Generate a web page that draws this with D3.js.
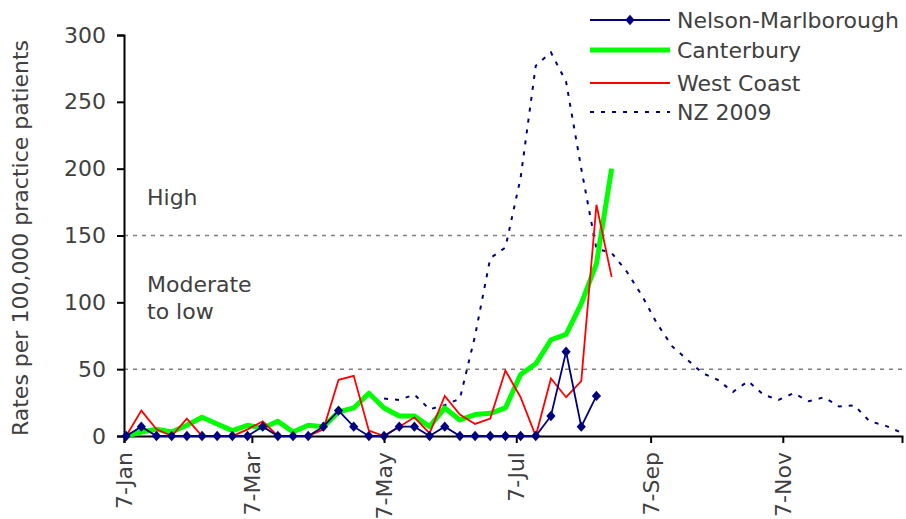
<!DOCTYPE html>
<html>
<head>
<meta charset="utf-8">
<script src="https://cdn.jsdelivr.net/npm/d3@7"></script>
<style>
  body { margin: 0; background: #fff; }
  svg text { font-family: "DejaVu Sans", Verdana, sans-serif; fill: #404040; }
</style>
</head>
<body>
<svg id="chart" width="906" height="519"></svg>
<script>
/* --- Data (weekly, first week ending 8-Jan) --- */
var startDate = new Date(2009, 0, 8);
var weeks = d3.range(52).map(i => d3.timeDay.offset(startDate, i * 7));
var tickDates = [new Date(2009,0,7), new Date(2009,2,7), new Date(2009,4,7),
                 new Date(2009,6,7), new Date(2009,8,7), new Date(2009,10,7)];
var tickLabels = ["7-Jan", "7-Mar", "7-May", "7-Jul", "7-Sep", "7-Nov"];
var yTicks = [0, 50, 100, 150, 200, 250, 300];

var nelson = [0,7,0,0,0,0,0,0,0,7,0,0,0,7,19,7,0,0,7,7,0,7,0,0,0,0,0,0,15,63,7,30];
var canterbury = [0,3,5,3,8,14,9,4,8,6,11,3,8,7,18,21,32,21,15,15,7,21,12,16,17,21,46,54,72,76,99,129,200];
var westCoast = [0,19,5,0,13,0,0,0,5,11,0,0,0,5,42,45,4,0,7,14,2,30,16,9,13,49,29,0,43,29,41,173,119];
var nz2009 = [null,null,null,null,null,null,null,null,null,null,null,null,null,null,null,null,null,
              28,27,31,20,23,28,75,133,141,193,277,287,265,200,140,137,123,105,84,67,57,47,42,33,41,31,27,32,26,29,22,23,11,8,3];

var levels = [150, 50];
var legendNames = ["Nelson-Marlborough", "Canterbury", "West Coast", "NZ 2009"];

var fontSize = "22px";

/* --- Scales --- */
var svg = d3.select("#chart");
var x = d3.scaleTime().domain([new Date(2009,0,7), new Date(2010,0,1)]).range([124, 902]);
var y = d3.scaleLinear().domain([0, 300]).range([436, 35]);

// threshold lines
svg.append("g").selectAll("line").data(levels).join("line")
  .attr("x1", 124).attr("x2", 902)
  .attr("y1", d => y(d)).attr("y2", d => y(d))
  .attr("stroke", "#808080").attr("stroke-width", 1.5).attr("stroke-dasharray", "4,5");

svg.append("text").attr("x", 147).attr("y", 205).style("font-size", fontSize).text("High");
svg.append("text").attr("x", 147).attr("y", 292).style("font-size", fontSize).text("Moderate");
svg.append("text").attr("x", 147).attr("y", 319).style("font-size", fontSize).text("to low");

// axes
var yAxis = svg.append("g").attr("transform", "translate(124,0)")
  .call(d3.axisLeft(y).tickValues(yTicks).tickSize(7).tickPadding(11));
var xAxis = svg.append("g").attr("transform", "translate(0,436)")
  .call(d3.axisBottom(x).tickValues(tickDates).tickFormat((d, i) => tickLabels[i]).tickSize(7));

[yAxis, xAxis].forEach(a => {
  a.select(".domain").attr("stroke", "#000").attr("stroke-width", 2);
  a.selectAll(".tick line").attr("stroke", "#000").attr("stroke-width", 2);
  a.selectAll("text").style("font-size", fontSize).attr("fill", "#404040")
    .style("font-family", '"DejaVu Sans", Verdana, sans-serif');
});
xAxis.selectAll("text")
  .attr("transform", "rotate(-90)")
  .attr("text-anchor", "end")
  .attr("dy", "0.35em")
  .attr("x", -16).attr("y", 0);

svg.append("text")
  .attr("transform", "translate(28,238) rotate(-90)")
  .attr("text-anchor", "middle")
  .style("font-size", fontSize)
  .text("Rates per 100,000 practice patients");

/* --- Lines --- */
var line = d3.line()
  .defined(d => d != null)
  .x((d, i) => x(weeks[i]))
  .y(d => y(d));

svg.append("path").datum(nz2009).attr("d", line)
  .attr("fill", "none").attr("stroke", "#000080").attr("stroke-width", 2)
  .attr("stroke-dasharray", "4,7");
svg.append("path").datum(canterbury).attr("d", line)
  .attr("fill", "none").attr("stroke", "#00ff00").attr("stroke-width", 5)
  .attr("stroke-linejoin", "round");
svg.append("path").datum(westCoast).attr("d", line)
  .attr("fill", "none").attr("stroke", "#ff0000").attr("stroke-width", 1.8);
svg.append("path").datum(nelson).attr("d", line)
  .attr("fill", "none").attr("stroke", "#000080").attr("stroke-width", 1.8);

// diamond marker, slightly wider than d3's default
var diamond = "M0,-5.2L4.6,0L0,5.2L-4.6,0Z";
svg.append("g").selectAll("path").data(nelson).join("path")
  .attr("d", diamond)
  .attr("transform", (d, i) => "translate(" + x(weeks[i]) + "," + y(d) + ")")
  .attr("fill", "#000080");

/* --- Legend --- */
var legend = svg.append("g");
var legendY = [20, 50, 83, 112];
legendNames.forEach((name, i) => {
  var g = legend.append("g").attr("transform", "translate(590," + legendY[i] + ")");
  var l = g.append("line").attr("x1", 0).attr("x2", 80).attr("y1", 0).attr("y2", 0);
  if (i == 0) {
    l.attr("stroke", "#000080").attr("stroke-width", 2);
    g.append("path").attr("d", diamond).attr("transform", "translate(40,0)").attr("fill", "#000080");
  } else if (i == 1) {
    l.attr("stroke", "#00ff00").attr("stroke-width", 5);
  } else if (i == 2) {
    l.attr("stroke", "#ff0000").attr("stroke-width", 2);
  } else {
    l.attr("stroke", "#000080").attr("stroke-width", 2).attr("stroke-dasharray", "4,7");
  }
  g.append("text").attr("x", 87).attr("dy", "0.35em").style("font-size", fontSize).text(name);
});
</script>
</body>
</html>
